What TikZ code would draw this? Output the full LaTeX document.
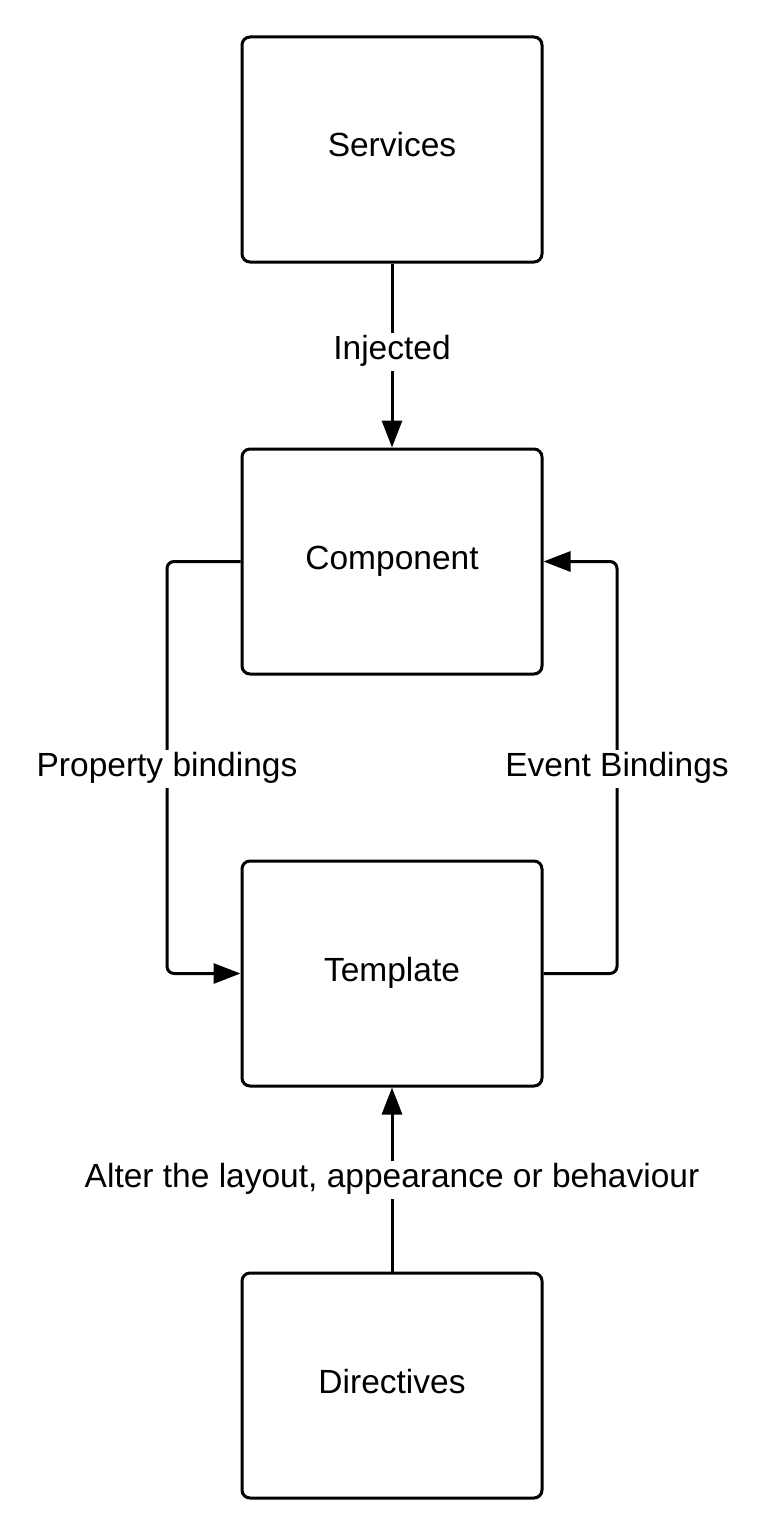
\documentclass[tikz,border=0pt]{standalone}
\usepackage{fontspec}
\setmainfont{Liberation Sans}
\usetikzlibrary{arrows.meta}
\tikzset{
  block/.style={draw, line width=3pt, rounded corners=8pt, minimum width=300pt, minimum height=225pt, inner sep=0pt, text height=25pt, text depth=10pt, font=\fontsize{33.5}{40}\selectfont},
  flow/.style={line width=3pt, rounded corners=7pt, -{Triangle[length=27pt,width=20pt]}},
  tag/.style={fill=white, inner xsep=4pt, inner ysep=1.5pt, text height=25pt, text depth=10pt, font=\fontsize{33.5}{40}\selectfont}
}

\begin{document}
\begin{tikzpicture}[x=1pt, y=-1pt]
			%%%%% START %%%%%
			\useasboundingbox (0, 0) rectangle (761, 1536);
			
			\node[block] (services) at (392, 149.5) {Services};
			\node[block] (component) at (392, 561.5) {Component};
			\node[block] (template) at (392, 973.5) {Template};
			\node[block] (directives) at (392, 1385.5) {Directives};
			
			\coordinate (leftrail) at (167, 561.5);
			\coordinate (rightrail) at (617, 973.5);
			
			\draw[flow] (services) -- (component);
			\draw[flow] (component.west) -- (leftrail) |- (template.west);
			\draw[flow] (template.east) -- (rightrail) |- (component.east);
			\draw[flow] (directives) -- (template);
			
			\node[tag] (injected) at (392, 351.5) {Injected};
			\node[tag] (propbind) at (167, 769) {Property bindings};
			\node[tag] (eventbind) at (617, 769) {Event Bindings};
			\node[tag] (alter) at (392, 1179.5) {Alter the layout, appearance or behaviour};
			
			%%%%% END %%%%%
		\end{tikzpicture}
\end{document}
